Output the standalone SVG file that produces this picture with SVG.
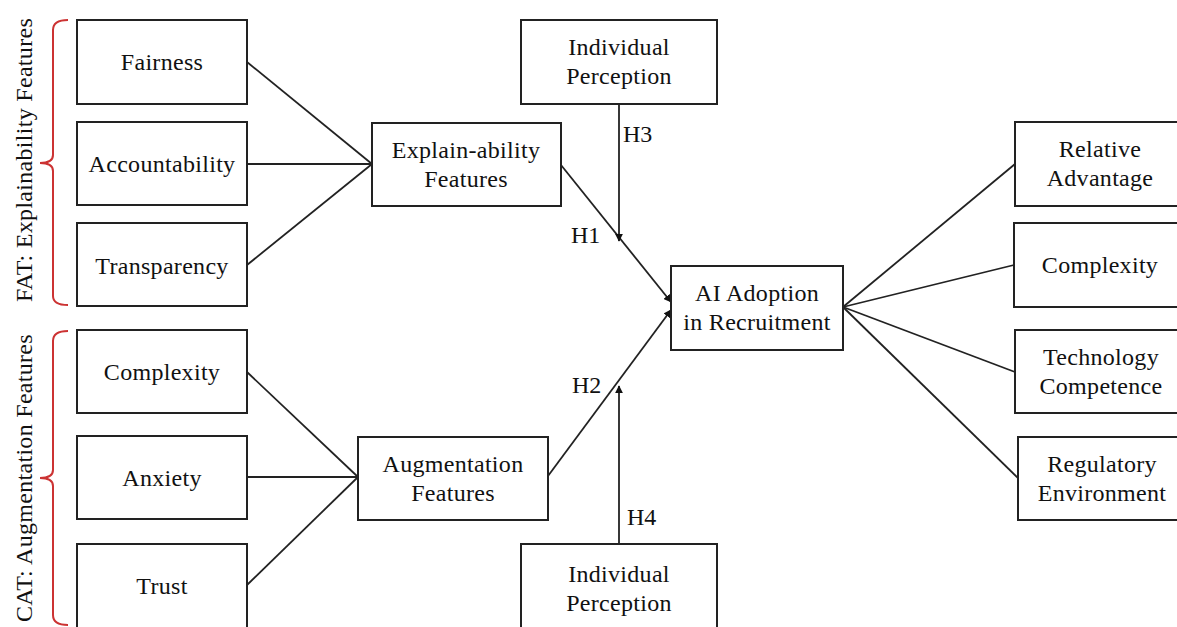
<svg xmlns="http://www.w3.org/2000/svg" width="1177" height="627" viewBox="0 0 1177 627">
<defs>
<style>
.box{fill:#fff;stroke:#222;stroke-width:2}
.t{font-family:"Liberation Serif","Times New Roman",serif;font-size:24px;fill:#111;text-anchor:middle;letter-spacing:0.3px}
.h{font-family:"Liberation Serif","Times New Roman",serif;font-size:24px;fill:#111}
.c{stroke:#222;stroke-width:1.8;fill:none}
.br{stroke:#cc3333;stroke-width:2;fill:none}
</style>
<marker id="ah" viewBox="0 0 10 10" refX="9" refY="5" markerWidth="8" markerHeight="8" markerUnits="userSpaceOnUse" orient="auto">
<path d="M0,0 L10,5 L0,10 z" fill="#111"/>
</marker>
</defs>
<rect width="1177" height="627" fill="#fff"/>

<g id="connectors">
<line class="c" x1="247" y1="62" x2="372" y2="164"/>
<line class="c" x1="247" y1="164" x2="372" y2="164"/>
<line class="c" x1="247" y1="265" x2="372" y2="164"/>
<line class="c" x1="247" y1="372" x2="358" y2="477"/>
<line class="c" x1="247" y1="477" x2="358" y2="477"/>
<line class="c" x1="247" y1="585" x2="358" y2="477"/>
<line class="c" x1="561" y1="165" x2="671" y2="302" marker-end="url(#ah)"/>
<line class="c" x1="548" y1="476" x2="671" y2="310" marker-end="url(#ah)"/>
<line class="c" x1="619" y1="104" x2="619" y2="241" marker-end="url(#ah)"/>
<line class="c" x1="619" y1="544" x2="619" y2="386" marker-end="url(#ah)"/>
<line class="c" x1="843" y1="307" x2="1015" y2="164"/>
<line class="c" x1="843" y1="307" x2="1014" y2="265"/>
<line class="c" x1="843" y1="307" x2="1015" y2="372"/>
<line class="c" x1="843" y1="307" x2="1018" y2="478"/>
<text class="h" x="623" y="142">H3</text>
<text class="h" x="571" y="243">H1</text>
<text class="h" x="572" y="393">H2</text>
<text class="h" x="627" y="525">H4</text>
</g>

<g id="fat-group">
<path class="br" d="M68,20 Q53,20 53,30 L53,155 Q53,163 40,163 Q53,163 53,171 L53,296 Q53,305 68,305"/>
<text class="t" transform="translate(32,160) rotate(-90)">FAT: Explainability Features</text>
</g>
<g id="cat-group">
<path class="br" d="M68,331 Q53,331 53,341 L53,470 Q53,478 40,478 Q53,478 53,486 L53,615 Q53,625 68,625"/>
<text class="t" transform="translate(32,478) rotate(-90)">CAT: Augmentation Features</text>
</g>

<g id="fairness"><rect class="box" x="77" y="20" width="170" height="84"/><text class="t" x="162" y="70">Fairness</text></g>
<g id="accountability"><rect class="box" x="77" y="122" width="170" height="83"/><text class="t" x="162" y="172">Accountability</text></g>
<g id="transparency"><rect class="box" x="77" y="223" width="170" height="83"/><text class="t" x="162" y="274">Transparency</text></g>
<g id="complexity-left"><rect class="box" x="77" y="330" width="170" height="83"/><text class="t" x="162" y="380">Complexity</text></g>
<g id="anxiety"><rect class="box" x="77" y="436" width="170" height="83"/><text class="t" x="162" y="486">Anxiety</text></g>
<g id="trust"><rect class="box" x="77" y="544" width="170" height="90"/><text class="t" x="162" y="594">Trust</text></g>

<g id="explainability"><rect class="box" x="372" y="123" width="189" height="83"/><text class="t" x="466" y="158">Explain-ability</text><text class="t" x="466" y="187">Features</text></g>
<g id="augmentation"><rect class="box" x="358" y="437" width="190" height="83"/><text class="t" x="453" y="472">Augmentation</text><text class="t" x="453" y="501">Features</text></g>

<g id="perception-top"><rect class="box" x="521" y="20" width="196" height="84"/><text class="t" x="619" y="55">Individual</text><text class="t" x="619" y="84">Perception</text></g>
<g id="perception-bottom"><rect class="box" x="521" y="544" width="196" height="90"/><text class="t" x="619" y="582">Individual</text><text class="t" x="619" y="611">Perception</text></g>

<g id="ai-adoption"><rect class="box" x="671" y="266" width="172" height="84"/><text class="t" x="757" y="301">AI Adoption</text><text class="t" x="757" y="330">in Recruitment</text></g>

<g id="relative-advantage"><rect class="box" x="1015" y="122" width="175" height="84"/><text class="t" x="1100" y="157">Relative</text><text class="t" x="1100" y="186">Advantage</text></g>
<g id="complexity-right"><rect class="box" x="1014" y="223" width="175" height="84"/><text class="t" x="1100" y="273">Complexity</text></g>
<g id="technology-competence"><rect class="box" x="1015" y="330" width="175" height="83"/><text class="t" x="1101" y="365">Technology</text><text class="t" x="1101" y="394">Competence</text></g>
<g id="regulatory-environment"><rect class="box" x="1018" y="437" width="175" height="83"/><text class="t" x="1102" y="472">Regulatory</text><text class="t" x="1102" y="501">Environment</text></g>
</svg>
